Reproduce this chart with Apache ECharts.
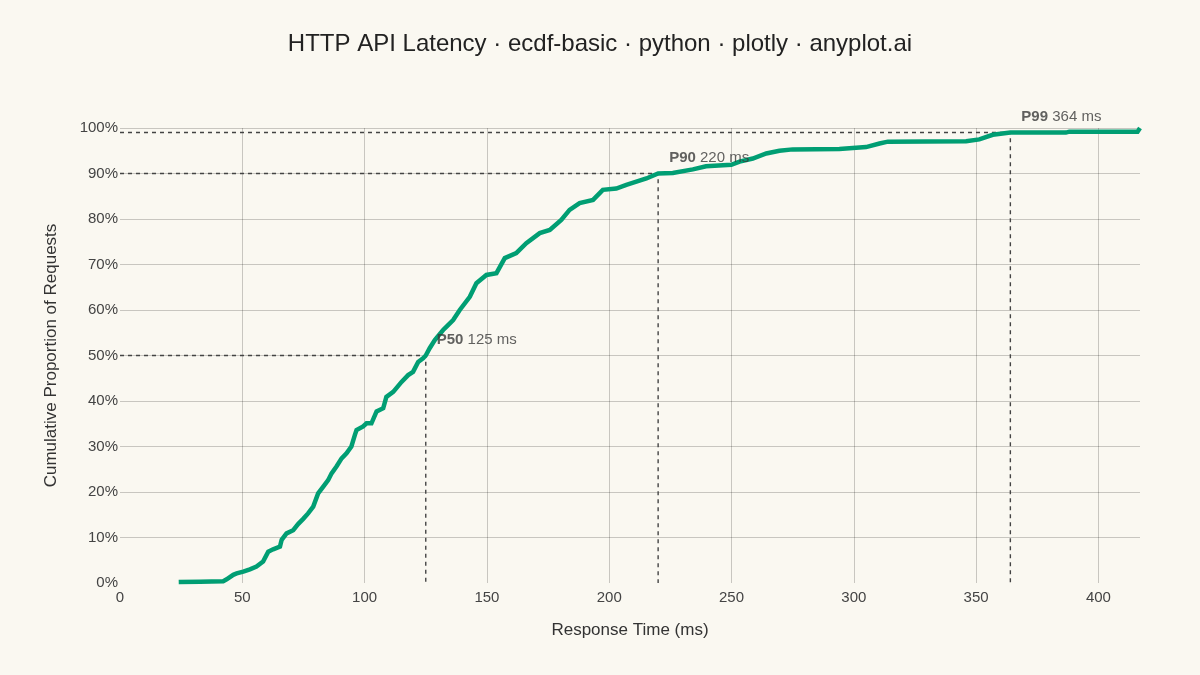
<!DOCTYPE html>
<html>
<head>
<meta charset="utf-8">
<script src="https://cdn.jsdelivr.net/npm/echarts@6/dist/echarts.min.js"></script>
<style>
html,body{margin:0;padding:0;background:#FAF8F1;}
#chart{width:1200px;height:675px;}
</style>
</head>
<body>
<div id="chart"></div>
<script>
const latencyMs = [24, 32.7, 42.2, 43.6, 46.3, 47.7, 50.4, 53.1, 55.8, 58.5, 60.6, 62.6, 65.4, 66.1, 68.1, 70.8, 72.9, 74.9, 76.9, 79.0, 81.0, 83.1, 85.1, 86.5, 88.5, 90.6, 92.6, 94.6, 96.0, 96.7, 99.4, 100.8, 102.8, 104.9, 107.6, 108.9, 111.7, 115.1, 117.8, 119.8, 121.9, 123.9, 125, 126.6, 128.7, 132.1, 133.4, 136.2, 138.9, 143.0, 145.7, 149.8, 153.9, 157.3, 162.0, 166.1, 171.6, 175.7, 180.4, 183.8, 187.9, 193.4, 197.4, 202.9, 207.0, 211.1, 215.2, 220, 226.0, 234.2, 239.6, 249.9, 253.3, 258.7, 264.2, 269.6, 275.0, 294.1, 305.0, 310.5, 313.9, 345.9, 351.3, 356.8, 364, 386.7, 388.1, 416, 417];
const cumProportion = [0.002, 0.003, 0.004, 0.008, 0.018, 0.021, 0.025, 0.030, 0.036, 0.047, 0.069, 0.074, 0.080, 0.095, 0.109, 0.116, 0.130, 0.141, 0.153, 0.168, 0.197, 0.212, 0.226, 0.241, 0.256, 0.274, 0.285, 0.300, 0.325, 0.336, 0.344, 0.351, 0.351, 0.377, 0.384, 0.409, 0.420, 0.442, 0.457, 0.464, 0.486, 0.494, 0.500, 0.516, 0.534, 0.556, 0.563, 0.578, 0.600, 0.629, 0.659, 0.677, 0.681, 0.714, 0.725, 0.747, 0.769, 0.776, 0.798, 0.820, 0.835, 0.842, 0.864, 0.867, 0.875, 0.882, 0.889, 0.900, 0.901, 0.909, 0.916, 0.919, 0.926, 0.933, 0.944, 0.950, 0.953, 0.954, 0.958, 0.966, 0.970, 0.971, 0.975, 0.985, 0.990, 0.990, 0.992, 0.992, 1.0];

// Percentile markers
const percentileNames = ['P50', 'P90', 'P99'];
const percentileValues = [125, 220, 364];
const percentileLevels = [0.50, 0.90, 0.99];

// Axis ticks
const xTicks = [0, 50, 100, 150, 200, 250, 300, 350, 400];

const FONT = '"Liberation Sans", Arial, sans-serif';
const ecdfData = latencyMs.map((x, i) => [x, cumProportion[i]]);

const guideSeries = percentileValues.map((v, i) => ({
  type: 'line',
  data: [[0, percentileLevels[i]], [v, percentileLevels[i]], [v, 0]],
  symbol: 'none',
  silent: true,
  z: 1,
  lineStyle: { color: '#444444', width: 1.4, type: [4, 4] }
}));

const chart = echarts.init(document.getElementById('chart'), null, { renderer: 'canvas' });
chart.setOption({
  backgroundColor: '#FAF8F1',
  animation: false,
  title: {
    text: 'HTTP API Latency · ecdf-basic · python · plotly · anyplot.ai',
    left: 'center',
    top: 27,
    textStyle: { fontFamily: FONT, fontSize: 24, fontWeight: 'normal', color: '#222222' }
  },
  grid: { left: 120, right: 60, top: 128, bottom: 92 },
  xAxis: {
    type: 'value',
    min: 0,
    max: 417,
    interval: 50,
    name: 'Response Time (ms)',
    nameLocation: 'middle',
    nameGap: 39,
    nameTextStyle: { fontFamily: FONT, fontSize: 17, color: '#333333' },
    axisLine: { show: false },
    axisTick: { show: false },
    axisLabel: {
      fontFamily: FONT, fontSize: 15, color: '#444444', margin: 7,
      customValues: xTicks
    },
    splitLine: { show: true, showMinLine: false, showMaxLine: false, lineStyle: { color: 'rgba(0,0,0,0.2)', width: 1 } }
  },
  yAxis: {
    type: 'value',
    min: 0,
    max: 1,
    interval: 0.1,
    name: 'Cumulative Proportion of Requests',
    nameLocation: 'middle',
    nameGap: 60,
    nameTextStyle: { fontFamily: FONT, fontSize: 17, color: '#333333' },
    axisLine: { show: false },
    axisTick: { show: false },
    axisLabel: {
      fontFamily: FONT, fontSize: 15, color: '#444444', margin: 2,
      verticalAlign: 'middle',
      padding: [6, 0, 0, 0],
      formatter: v => Math.round(v * 100) + '%'
    },
    splitLine: { show: true, showMinLine: false, lineStyle: { color: 'rgba(0,0,0,0.2)', width: 1 } }
  },
  series: [
    ...guideSeries,
    {
      type: 'line',
      data: ecdfData,
      symbol: 'none',
      z: 3,
      lineStyle: { color: '#009E73', width: 4.5, join: 'miter', cap: 'butt' }
    },
    {
      type: 'scatter',
      data: percentileValues.map((v, i) => [v, percentileLevels[i], percentileNames[i]]),
      symbolSize: 0,
      silent: true,
      z: 4,
      label: {
        show: true,
        position: [11, -16],
        align: 'left',
        verticalAlign: 'middle',
        fontFamily: FONT,
        fontSize: 15,
        color: '#3a3a3a',
        formatter: p => '{b|' + p.value[2] + '} ' + p.value[0] + ' ms',
        rich: { b: { fontFamily: FONT, fontSize: 15, fontWeight: 'bold', color: '#3a3a3a' } }
      }
    }
  ]
});
</script>
</body>
</html>
